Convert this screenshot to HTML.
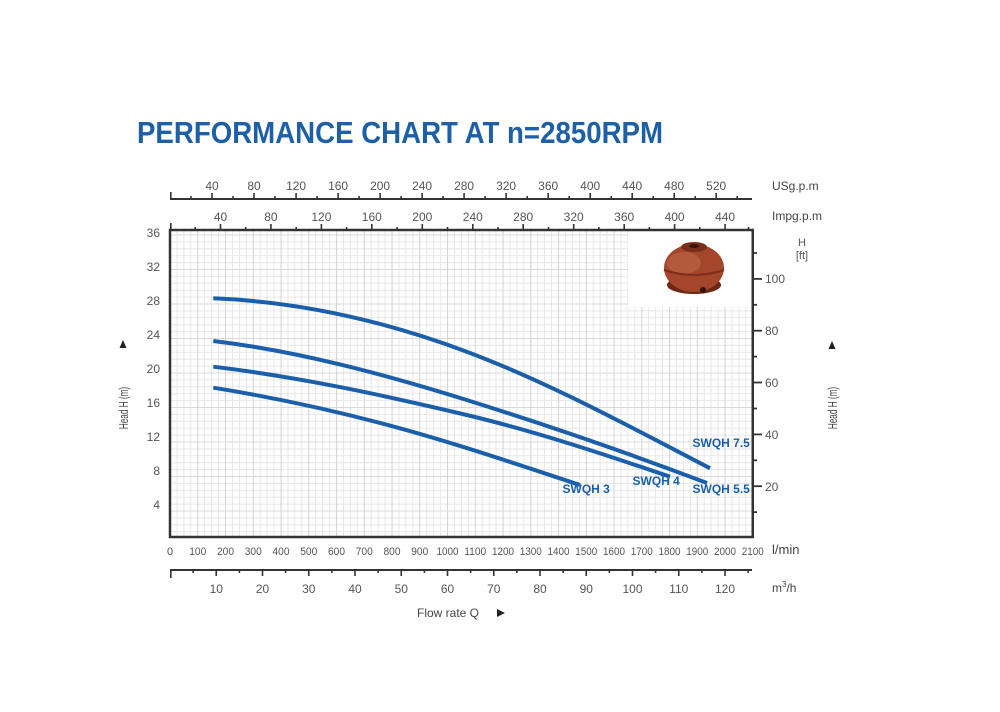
<!DOCTYPE html>
<html>
<head>
<meta charset="utf-8">
<style>
  html,body{margin:0;padding:0;background:#fff;}
  svg{display:block;}
  text{font-family:"Liberation Sans", sans-serif;}
</style>
</head>
<body>
<svg width="1000" height="712" viewBox="0 0 1000 712" xmlns="http://www.w3.org/2000/svg">
  <defs>
    <pattern id="grid" patternUnits="userSpaceOnUse" x="169.5" y="234.5" width="27.75" height="34.5">
      <line x1="0" y1="7.4" x2="27.75" y2="7.4" stroke="#e7e7e7" stroke-width="1"/>
      <line x1="0" y1="14.3" x2="27.75" y2="14.3" stroke="#e7e7e7" stroke-width="1"/>
      <line x1="0" y1="21.2" x2="27.75" y2="21.2" stroke="#e7e7e7" stroke-width="1"/>
      <line x1="0" y1="28.1" x2="27.75" y2="28.1" stroke="#e7e7e7" stroke-width="1"/>
      <line x1="7.44" y1="0" x2="7.44" y2="34.5" stroke="#e7e7e7" stroke-width="1"/>
      <line x1="14.375" y1="0" x2="14.375" y2="34.5" stroke="#e7e7e7" stroke-width="1"/>
      <line x1="21.31" y1="0" x2="21.31" y2="34.5" stroke="#e7e7e7" stroke-width="1"/>
      <line x1="0" y1="0.5" x2="27.75" y2="0.5" stroke="#d9d9d9" stroke-width="1"/>
      <line x1="0.5" y1="0" x2="0.5" y2="34.5" stroke="#d6d6d6" stroke-width="1.2"/>
    </pattern>
  </defs>

  <rect x="0" y="0" width="1000" height="712" fill="#fff"/>

  <!-- Title -->
  <text x="137" y="143" font-size="31" font-weight="bold" fill="#1f5fa6" textLength="526" lengthAdjust="spacingAndGlyphs">PERFORMANCE CHART AT n=2850RPM</text>

  <!-- Grid -->
  <rect x="171" y="231" width="581" height="305" fill="url(#grid)"/>
  <rect x="628" y="231" width="123.5" height="76" fill="#fff"/>

  <!-- Impeller picture -->
  <g>
    <ellipse cx="694" cy="285" rx="27" ry="9" fill="#6e2816"/>
    <ellipse cx="694" cy="268" rx="30" ry="24" fill="#a3462b"/>
    <ellipse cx="684" cy="263" rx="17" ry="11" fill="#c46a4d" opacity="0.55"/>
    <path d="M664 270 Q694 280 724 270" stroke="#7d2f1b" stroke-width="2" fill="none"/>
    <ellipse cx="694" cy="247" rx="13" ry="5" fill="#7a2d19"/>
    <ellipse cx="694" cy="246" rx="5" ry="2" fill="#3a1208"/>
    <circle cx="703" cy="290" r="3" fill="#3a1208"/>
  </g>

  <!-- Plot border -->
  <rect x="170" y="230" width="582.75" height="307" fill="none" stroke="#333" stroke-width="2.5"/>

  <!-- US gpm axis -->
  <line x1="170" y1="199" x2="752" y2="199" stroke="#333" stroke-width="2"/>
  <g stroke="#333" stroke-width="1.6">
    <line x1="170.8" y1="192" x2="170.8" y2="199"/>
    <line x1="212.0" y1="193" x2="212.0" y2="199"/>
    <line x1="254.0" y1="193" x2="254.0" y2="199"/>
    <line x1="296.1" y1="193" x2="296.1" y2="199"/>
    <line x1="338.1" y1="193" x2="338.1" y2="199"/>
    <line x1="380.1" y1="193" x2="380.1" y2="199"/>
    <line x1="422.1" y1="193" x2="422.1" y2="199"/>
    <line x1="464.1" y1="193" x2="464.1" y2="199"/>
    <line x1="506.1" y1="193" x2="506.1" y2="199"/>
    <line x1="548.2" y1="193" x2="548.2" y2="199"/>
    <line x1="590.2" y1="193" x2="590.2" y2="199"/>
    <line x1="632.2" y1="193" x2="632.2" y2="199"/>
    <line x1="674.2" y1="193" x2="674.2" y2="199"/>
    <line x1="716.2" y1="193" x2="716.2" y2="199"/>
    <line x1="191.0" y1="196" x2="191.0" y2="199"/>
    <line x1="233.0" y1="196" x2="233.0" y2="199"/>
    <line x1="275.0" y1="196" x2="275.0" y2="199"/>
    <line x1="317.1" y1="196" x2="317.1" y2="199"/>
    <line x1="359.1" y1="196" x2="359.1" y2="199"/>
    <line x1="401.1" y1="196" x2="401.1" y2="199"/>
    <line x1="443.1" y1="196" x2="443.1" y2="199"/>
    <line x1="485.1" y1="196" x2="485.1" y2="199"/>
    <line x1="527.2" y1="196" x2="527.2" y2="199"/>
    <line x1="569.2" y1="196" x2="569.2" y2="199"/>
    <line x1="611.2" y1="196" x2="611.2" y2="199"/>
    <line x1="653.2" y1="196" x2="653.2" y2="199"/>
    <line x1="695.2" y1="196" x2="695.2" y2="199"/>
    <line x1="737.2" y1="196" x2="737.2" y2="199"/>
  </g>
  <g font-size="12" fill="#555" text-anchor="middle">
    <text x="212.0" y="190">40</text>
    <text x="254.0" y="190">80</text>
    <text x="296.1" y="190">120</text>
    <text x="338.1" y="190">160</text>
    <text x="380.1" y="190">200</text>
    <text x="422.1" y="190">240</text>
    <text x="464.1" y="190">280</text>
    <text x="506.1" y="190">320</text>
    <text x="548.2" y="190">360</text>
    <text x="590.2" y="190">400</text>
    <text x="632.2" y="190">440</text>
    <text x="674.2" y="190">480</text>
    <text x="716.2" y="190">520</text>
  </g>
  <text x="772" y="190" font-size="12" fill="#444">USg.p.m</text>

  <!-- Imp gpm axis (top border) -->
  <g stroke="#333" stroke-width="1.6">
    <line x1="170.8" y1="223" x2="170.8" y2="230"/>
    <line x1="220.5" y1="224" x2="220.5" y2="230"/>
    <line x1="270.9" y1="224" x2="270.9" y2="230"/>
    <line x1="321.4" y1="224" x2="321.4" y2="230"/>
    <line x1="371.8" y1="224" x2="371.8" y2="230"/>
    <line x1="422.3" y1="224" x2="422.3" y2="230"/>
    <line x1="472.8" y1="224" x2="472.8" y2="230"/>
    <line x1="523.2" y1="224" x2="523.2" y2="230"/>
    <line x1="573.7" y1="224" x2="573.7" y2="230"/>
    <line x1="624.2" y1="224" x2="624.2" y2="230"/>
    <line x1="674.6" y1="224" x2="674.6" y2="230"/>
    <line x1="725.1" y1="224" x2="725.1" y2="230"/>
    <line x1="195.2" y1="227" x2="195.2" y2="230"/>
    <line x1="245.7" y1="227" x2="245.7" y2="230"/>
    <line x1="296.2" y1="227" x2="296.2" y2="230"/>
    <line x1="346.6" y1="227" x2="346.6" y2="230"/>
    <line x1="397.1" y1="227" x2="397.1" y2="230"/>
    <line x1="447.5" y1="227" x2="447.5" y2="230"/>
    <line x1="498.0" y1="227" x2="498.0" y2="230"/>
    <line x1="548.5" y1="227" x2="548.5" y2="230"/>
    <line x1="598.9" y1="227" x2="598.9" y2="230"/>
    <line x1="649.4" y1="227" x2="649.4" y2="230"/>
    <line x1="699.8" y1="227" x2="699.8" y2="230"/>
    <line x1="748.5" y1="227" x2="748.5" y2="230"/>
  </g>
  <g font-size="12" fill="#555" text-anchor="middle">
    <text x="220.5" y="221">40</text>
    <text x="270.9" y="221">80</text>
    <text x="321.4" y="221">120</text>
    <text x="371.8" y="221">160</text>
    <text x="422.3" y="221">200</text>
    <text x="472.8" y="221">240</text>
    <text x="523.2" y="221">280</text>
    <text x="573.7" y="221">320</text>
    <text x="624.2" y="221">360</text>
    <text x="674.6" y="221">400</text>
    <text x="725.1" y="221">440</text>
  </g>
  <text x="772" y="220" font-size="12" fill="#444">Impg.p.m</text>

  <!-- Left axis labels (m) -->
  <g font-size="12" fill="#555" text-anchor="end">
    <text x="160" y="237">36</text>
    <text x="160" y="271">32</text>
    <text x="160" y="305">28</text>
    <text x="160" y="339">24</text>
    <text x="160" y="373">20</text>
    <text x="160" y="407">16</text>
    <text x="160" y="441">12</text>
    <text x="160" y="475">8</text>
    <text x="160" y="509">4</text>
  </g>
  <polygon points="123,340 119.5,348 126.5,348" fill="#222"/>
  <g transform="translate(128,408) rotate(-90) scale(0.63,1)">
    <text x="0" y="0" text-anchor="middle" font-size="13" fill="#444">Head H (m)</text>
  </g>

  <!-- Right axis (ft) -->
  <g stroke="#333" stroke-width="1.8">
    <line x1="752" y1="253.0" x2="757" y2="253.0"/>
    <line x1="752" y1="278.9" x2="762" y2="278.9"/>
    <line x1="752" y1="304.8" x2="757" y2="304.8"/>
    <line x1="752" y1="330.7" x2="762" y2="330.7"/>
    <line x1="752" y1="356.6" x2="757" y2="356.6"/>
    <line x1="752" y1="382.5" x2="762" y2="382.5"/>
    <line x1="752" y1="408.5" x2="757" y2="408.5"/>
    <line x1="752" y1="434.4" x2="762" y2="434.4"/>
    <line x1="752" y1="460.3" x2="757" y2="460.3"/>
    <line x1="752" y1="486.2" x2="762" y2="486.2"/>
    <line x1="752" y1="512.1" x2="757" y2="512.1"/>
  </g>
  <g font-size="12" fill="#555">
    <text x="765" y="283">100</text>
    <text x="765" y="335">80</text>
    <text x="765" y="387">60</text>
    <text x="765" y="439">40</text>
    <text x="765" y="491">20</text>
  </g>
  <text x="802" y="246" font-size="11" fill="#555" text-anchor="middle">H</text>
  <text x="802" y="259" font-size="11" fill="#555" text-anchor="middle">[ft]</text>
  <polygon points="832,341 828.5,349 835.5,349" fill="#222"/>
  <g transform="translate(837,408) rotate(-90) scale(0.63,1)">
    <text x="0" y="0" text-anchor="middle" font-size="13" fill="#444">Head H (m)</text>
  </g>

  <!-- Curves -->
  <g fill="none" stroke="#1b5fab" stroke-width="4" stroke-linecap="butt">
    <path d="M213.3 298.3 C297.8 301.7 382.2 320.0 466.7 351.7 C547.8 382.1 628.9 426.1 710 468.3"/>
    <path d="M213.3 341 C297.8 351.1 382.2 373.6 466.7 400 C546.8 425.1 626.9 452.6 707 483"/>
    <path d="M213.3 366.7 C297.8 376.8 382.2 394.9 466.7 415 C534.5 431.1 602.2 453.6 670 476.7"/>
    <path d="M213.3 387.7 C275.5 397.7 337.8 411.2 400 428.3 C460 444.8 520 465.2 580 485"/>
  </g>
  <g font-size="12" font-weight="bold" fill="#1b5fab">
    <text x="692.5" y="447">SWQH 7.5</text>
    <text x="692.5" y="493">SWQH 5.5</text>
    <text x="632.5" y="485">SWQH 4</text>
    <text x="562.5" y="493">SWQH 3</text>
  </g>

  <!-- l/min labels -->
  <g font-size="11" fill="#555" text-anchor="middle">
    <text x="170" y="555">0</text>
    <text x="197.75" y="555" textLength="17" lengthAdjust="spacingAndGlyphs">100</text>
    <text x="225.5" y="555" textLength="17" lengthAdjust="spacingAndGlyphs">200</text>
    <text x="253.25" y="555" textLength="17" lengthAdjust="spacingAndGlyphs">300</text>
    <text x="281" y="555" textLength="17" lengthAdjust="spacingAndGlyphs">400</text>
    <text x="308.75" y="555" textLength="17" lengthAdjust="spacingAndGlyphs">500</text>
    <text x="336.5" y="555" textLength="17" lengthAdjust="spacingAndGlyphs">600</text>
    <text x="364.25" y="555" textLength="17" lengthAdjust="spacingAndGlyphs">700</text>
    <text x="392" y="555" textLength="17" lengthAdjust="spacingAndGlyphs">800</text>
    <text x="419.75" y="555" textLength="17" lengthAdjust="spacingAndGlyphs">900</text>
    <text x="447.5" y="555" textLength="22" lengthAdjust="spacingAndGlyphs">1000</text>
    <text x="475.25" y="555" textLength="22" lengthAdjust="spacingAndGlyphs">1100</text>
    <text x="503" y="555" textLength="22" lengthAdjust="spacingAndGlyphs">1200</text>
    <text x="530.75" y="555" textLength="22" lengthAdjust="spacingAndGlyphs">1300</text>
    <text x="558.5" y="555" textLength="22" lengthAdjust="spacingAndGlyphs">1400</text>
    <text x="586.25" y="555" textLength="22" lengthAdjust="spacingAndGlyphs">1500</text>
    <text x="614" y="555" textLength="22" lengthAdjust="spacingAndGlyphs">1600</text>
    <text x="641.75" y="555" textLength="22" lengthAdjust="spacingAndGlyphs">1700</text>
    <text x="669.5" y="555" textLength="22" lengthAdjust="spacingAndGlyphs">1800</text>
    <text x="697.25" y="555" textLength="22" lengthAdjust="spacingAndGlyphs">1900</text>
    <text x="725" y="555" textLength="22" lengthAdjust="spacingAndGlyphs">2000</text>
    <text x="752.75" y="555" textLength="22" lengthAdjust="spacingAndGlyphs">2100</text>
  </g>
  <text x="772" y="554" font-size="13" fill="#444">l/min</text>

  <!-- m3/h axis -->
  <line x1="170" y1="570" x2="752" y2="570" stroke="#333" stroke-width="2"/>
  <g stroke="#333" stroke-width="1.6">
    <line x1="170.8" y1="570" x2="170.8" y2="578"/>
    <line x1="216.25" y1="570" x2="216.25" y2="576"/>
    <line x1="262.5" y1="570" x2="262.5" y2="576"/>
    <line x1="308.75" y1="570" x2="308.75" y2="576"/>
    <line x1="355" y1="570" x2="355" y2="576"/>
    <line x1="401.25" y1="570" x2="401.25" y2="576"/>
    <line x1="447.5" y1="570" x2="447.5" y2="576"/>
    <line x1="493.75" y1="570" x2="493.75" y2="576"/>
    <line x1="540" y1="570" x2="540" y2="576"/>
    <line x1="586.25" y1="570" x2="586.25" y2="576"/>
    <line x1="632.5" y1="570" x2="632.5" y2="576"/>
    <line x1="678.75" y1="570" x2="678.75" y2="576"/>
    <line x1="725" y1="570" x2="725" y2="576"/>
    <line x1="193.1" y1="570" x2="193.1" y2="573"/>
    <line x1="239.4" y1="570" x2="239.4" y2="573"/>
    <line x1="285.6" y1="570" x2="285.6" y2="573"/>
    <line x1="331.9" y1="570" x2="331.9" y2="573"/>
    <line x1="378.1" y1="570" x2="378.1" y2="573"/>
    <line x1="424.4" y1="570" x2="424.4" y2="573"/>
    <line x1="470.6" y1="570" x2="470.6" y2="573"/>
    <line x1="516.9" y1="570" x2="516.9" y2="573"/>
    <line x1="563.1" y1="570" x2="563.1" y2="573"/>
    <line x1="609.4" y1="570" x2="609.4" y2="573"/>
    <line x1="655.6" y1="570" x2="655.6" y2="573"/>
    <line x1="701.9" y1="570" x2="701.9" y2="573"/>
    <line x1="748.1" y1="570" x2="748.1" y2="573"/>
  </g>
  <g font-size="12" fill="#555" text-anchor="middle">
    <text x="216.25" y="593">10</text>
    <text x="262.5" y="593">20</text>
    <text x="308.75" y="593">30</text>
    <text x="355" y="593">40</text>
    <text x="401.25" y="593">50</text>
    <text x="447.5" y="593">60</text>
    <text x="493.75" y="593">70</text>
    <text x="540" y="593">80</text>
    <text x="586.25" y="593">90</text>
    <text x="632.5" y="593">100</text>
    <text x="678.75" y="593">110</text>
    <text x="725" y="593">120</text>
  </g>
  <text x="772" y="592" font-size="12" fill="#444">m<tspan font-size="8" dy="-5">3</tspan><tspan dy="5">/h</tspan></text>

  <!-- Flow rate label -->
  <text x="417" y="617" font-size="12" fill="#444">Flow rate Q</text>
  <polygon points="497,609 505,613 497,617" fill="#222"/>
</svg>
</body>
</html>
